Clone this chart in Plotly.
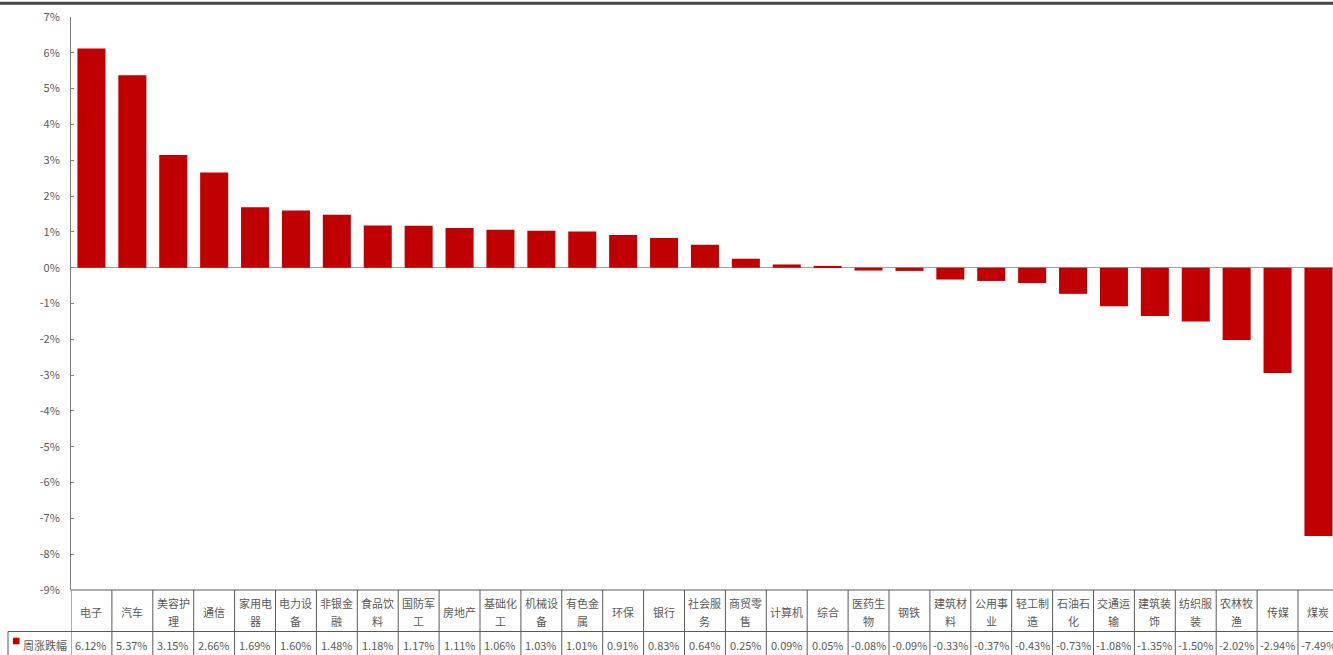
import plotly.graph_objects as go

categories = ["电子", "汽车", "美容护理", "通信", "家用电器", "电力设备", "非银金融", "食品饮料",
              "国防军工", "房地产", "基础化工", "机械设备", "有色金属", "环保", "银行", "社会服务",
              "商贸零售", "计算机", "综合", "医药生物", "钢铁", "建筑材料", "公用事业", "轻工制造",
              "石油石化", "交通运输", "建筑装饰", "纺织服装", "农林牧渔", "传媒", "煤炭"]
values = [6.12, 5.37, 3.15, 2.66, 1.69, 1.60, 1.48, 1.18, 1.17, 1.11, 1.06, 1.03, 1.01, 0.91,
          0.83, 0.64, 0.25, 0.09, 0.05, -0.08, -0.09, -0.33, -0.37, -0.43, -0.73, -1.08, -1.35,
          -1.50, -2.02, -2.94, -7.49]
series_name = "周涨跌幅"
y_ticks = list(range(-9, 8))

W, H = 1333, 655
L, T = 71, 17
PLOT_BOTTOM = 590
plot_h = PLOT_BOTTOM - T
plot_w = W - L
col_w = 40.9
n = len(categories)
x_max = -0.5 + plot_w / col_w

FONT = "Noto Sans CJK SC, Noto Sans, sans-serif"
TXT = "#595959"
BAR = "#C00000"
TABLE_LINE = "#5a5a5a"


def py(p):
    return (PLOT_BOTTOM - p) / plot_h


def px(p):
    return (p - L) / plot_w


fig = go.Figure(go.Bar(
    x=list(range(n)), y=values, name=series_name,
    marker=dict(color=BAR, line=dict(width=0)), width=0.685,
))

shapes = []
# top dark band
shapes.append(dict(type="rect", xref="paper", yref="paper", x0=px(-5), x1=px(W + 5),
                   y0=py(4.7), y1=py(1.7), fillcolor="#474747", line=dict(width=0), layer="above"))
# table grid
for i in range(n + 1):
    shapes.append(dict(type="line", xref="x", yref="paper", x0=i - 0.5, x1=i - 0.5,
                       y0=py(PLOT_BOTTOM), y1=py(H + 5), line=dict(color=TABLE_LINE, width=1)))
shapes.append(dict(type="line", xref="paper", yref="paper", x0=px(L), x1=px(W + 10),
                   y0=py(PLOT_BOTTOM), y1=py(PLOT_BOTTOM), line=dict(color=TABLE_LINE, width=1)))
shapes.append(dict(type="line", xref="paper", yref="paper", x0=px(8), x1=px(W + 10),
                   y0=py(631.5), y1=py(631.5), line=dict(color=TABLE_LINE, width=1)))
shapes.append(dict(type="line", xref="paper", yref="paper", x0=px(8), x1=px(8),
                   y0=py(631.5), y1=py(H + 5), line=dict(color=TABLE_LINE, width=1)))
# legend key
shapes.append(dict(type="rect", xref="paper", yref="paper", x0=px(13), x1=px(19.5),
                   y0=py(644.3), y1=py(637.7), fillcolor=BAR, line=dict(width=0)))

annotations = []
for i, name in enumerate(categories):
    lines = [name[j:j + 3] for j in range(0, len(name), 3)]
    if len(lines) == 1:
        ys = [611.5]
    else:
        ys = [602.5, 620.5]
    for ln, yy in zip(lines, ys):
        annotations.append(dict(x=i, y=py(yy), xref="x", yref="paper", text=ln, showarrow=False,
                                xanchor="center", yanchor="middle",
                                font=dict(size=11, color=TXT, family=FONT)))
    annotations.append(dict(x=i, y=py(644.5), xref="x", yref="paper", text=f"{values[i]:.2f}%",
                            showarrow=False, xanchor="center", yanchor="middle",
                            font=dict(size=11, color=TXT, family=FONT)))
annotations.append(dict(x=px(21), y=py(644.5), xref="paper", yref="paper", text=series_name,
                        showarrow=False, xanchor="left", yanchor="middle",
                        font=dict(size=11, color=TXT, family=FONT)))

fig.update_layout(
    width=W, height=H,
    margin=dict(l=L, r=0, t=T, b=H - PLOT_BOTTOM, pad=0),
    paper_bgcolor="white", plot_bgcolor="white",
    showlegend=False,
    font=dict(family=FONT, color=TXT, size=11),
    shapes=shapes, annotations=annotations,
    xaxis=dict(range=[-0.5, x_max], showticklabels=False, showgrid=False, zeroline=False,
               showline=False, ticks="", automargin=False, fixedrange=True),
    yaxis=dict(range=[-9, 7], tickvals=y_ticks, ticktext=[f"{v}%" for v in y_ticks],
               ticks="inside", ticklen=3, tickcolor="#808080", tickwidth=1,
               showline=True, linecolor="#808080", linewidth=1,
               zeroline=True, zerolinecolor="#A0A0A0", zerolinewidth=1.3,
               showgrid=False, automargin=False, ticklabelstandoff=8,
               tickfont=dict(size=11, color=TXT, family=FONT), fixedrange=True),
)

fig.write_html("out.html", config={"displayModeBar": False})
